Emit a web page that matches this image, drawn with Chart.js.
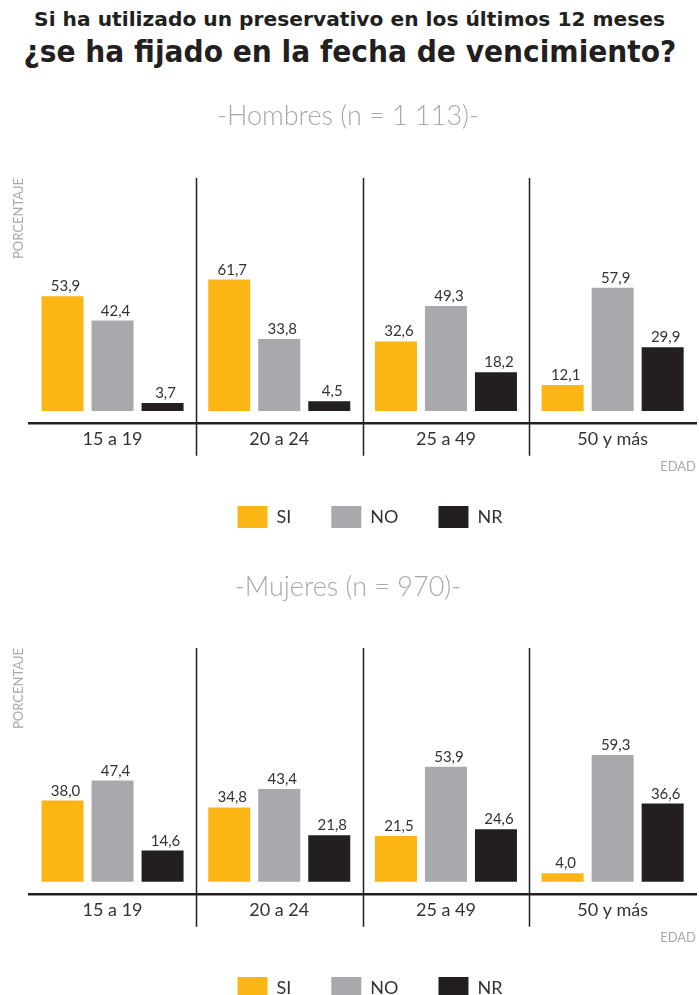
<!DOCTYPE html>
<html>
<head>
<meta charset="utf-8">
<script src="https://cdn.jsdelivr.net/npm/chart.js@4"></script>
<style>
  html, body { margin: 0; padding: 0; background: #fff; }
  body { width: 699px; height: 995px; overflow: hidden; position: relative; }
  .t1 { position: absolute; left: 0; width: 699px; top: 8px; text-align: center;
        font-family: "DejaVu Sans", sans-serif; font-weight: bold; font-size: 19px; color: #231f20; white-space: nowrap; }
  .t2 { position: absolute; left: 0; width: 699px; top: 33px; text-align: center;
        font-family: "DejaVu Sans", sans-serif; font-weight: 900; font-stretch: condensed; font-size: 31px; color: #231f20; white-space: nowrap; }
  canvas { position: absolute; left: 0; }
</style>
</head>
<body>
<div class="t1"><span id="t1s" style="display:inline-block">Si ha utilizado un preservativo en los últimos 12 meses</span></div>
<div class="t2"><span id="t2s" style="display:inline-block">¿se ha fijado en la fecha de vencimiento?</span></div>
<canvas id="c1" width="699" height="453" style="top:85px"></canvas>
<canvas id="c2" width="699" height="469" style="top:540px"></canvas>
<script>
const categories = ["15 a 19", "20 a 24", "25 a 49", "50 y más"];
const seriesNames = ["SI", "NO", "NR"];
const hombresSI = [53.9, 61.7, 32.6, 12.1];
const hombresNO = [42.4, 33.8, 49.3, 57.9];
const hombresNR = [3.7, 4.5, 18.2, 29.9];
const mujeresSI = [38.0, 34.8, 21.5, 4.0];
const mujeresNO = [47.4, 43.4, 53.9, 59.3];
const mujeresNR = [14.6, 21.8, 24.6, 36.6];
const titleHombres = "-Hombres (n = 1 113)-";
const titleMujeres = "-Mujeres (n = 970)-";
const colors = ["#fbb615", "#a7a9ac", "#231f20"];

function fitWidth(id, target) {
  const s = document.getElementById(id);
  const w = s.getBoundingClientRect().width;
  s.style.transform = 'scaleX(' + (target / w) + ')';
}
fitWidth('t1s', 631);
fitWidth('t2s', 653);

const FONT = "Lato, 'Open Sans', sans-serif";

const sepPlugin = {
  id: 'sep',
  afterLayout(chart) {
    // nudge legend to the right, as in the reference
    chart.legend.left += 22;
    chart.legend.right += 22;
  },
  afterDraw(chart) {
    const x = chart.scales.x, ca = chart.chartArea, ctx = chart.ctx;
    ctx.save();
    ctx.strokeStyle = '#231f20';
    ctx.lineWidth = 1.5;
    for (let i = 0; i < categories.length - 1; i++) {
      const px = Math.round((x.getPixelForValue(i) + x.getPixelForValue(i + 1)) / 2) + 0.5;
      ctx.beginPath();
      ctx.moveTo(px, ca.top);
      ctx.lineTo(px, ca.bottom + 33);
      ctx.stroke();
    }
    ctx.restore();
  }
};

const labelPlugin = {
  id: 'vals',
  afterDatasetsDraw(chart) {
    const ctx = chart.ctx;
    ctx.save();
    ctx.font = "15px " + FONT;
    ctx.fillStyle = '#333';
    ctx.textAlign = 'center';
    ctx.textBaseline = 'alphabetic';
    chart.data.datasets.forEach((ds, di) => {
      const meta = chart.getDatasetMeta(di);
      meta.data.forEach((el, i) => {
        const t = ds.data[i].toFixed(1).replace('.', ',');
        ctx.fillText(t, el.x + 3, el.y - 5);
      });
    });
    ctx.restore();
  }
};

function makeChart(id, title, si, no, nr, padTop, padBottom) {
  const data = [si, no, nr];
  return new Chart(document.getElementById(id), {
    type: 'bar',
    data: {
      labels: categories,
      datasets: seriesNames.map((n, k) => ({
        label: n,
        data: data[k],
        backgroundColor: colors[k],
        borderWidth: 0,
        barPercentage: 0.84,
        categoryPercentage: 0.9
      }))
    },
    options: {
      responsive: false,
      animation: false,
      devicePixelRatio: 1,
      layout: { padding: { left: 0, right: 3, top: 0, bottom: 0 } },
      plugins: {
        title: {
          display: true, text: title, color: '#a7a9ac',
          font: { family: FONT, size: 27, weight: '300' },
          padding: { top: padTop, bottom: padBottom }
        },
        legend: {
          position: 'bottom',
          labels: {
            boxWidth: 30, boxHeight: 22, padding: 40, color: '#333',
            font: { family: FONT, size: 18 }
          }
        },
        tooltip: { enabled: false }
      },
      scales: {
        x: {
          grid: { display: false, drawTicks: false },
          border: { display: true, color: '#231f20', width: 2.5 },
          ticks: { color: '#333', font: { family: FONT, size: 18 }, padding: 6 },
          title: {
            display: true, text: 'EDAD', align: 'end', color: '#a7a9ac',
            font: { family: FONT, size: 13 }, padding: { top: 2.2, bottom: -8.2 }
          }
        },
        y: {
          min: -5.6, max: 109.4,
          grid: { display: false, drawTicks: false },
          border: { display: false },
          ticks: { display: false },
          title: {
            display: true, text: 'PORCENTAJE', align: 'end', color: '#a7a9ac',
            font: { family: FONT, size: 13 }, padding: { top: 10.8, bottom: 2.8 }
          }
        }
      }
    },
    plugins: [sepPlugin, labelPlugin]
  });
}

makeChart('c1', titleHombres, hombresSI, hombresNO, hombresNR, 14.8, 45.8);
makeChart('c2', titleMujeres, mujeresSI, mujeresNO, mujeresNR, 30.8, 44.8);
</script>
</body>
</html>
